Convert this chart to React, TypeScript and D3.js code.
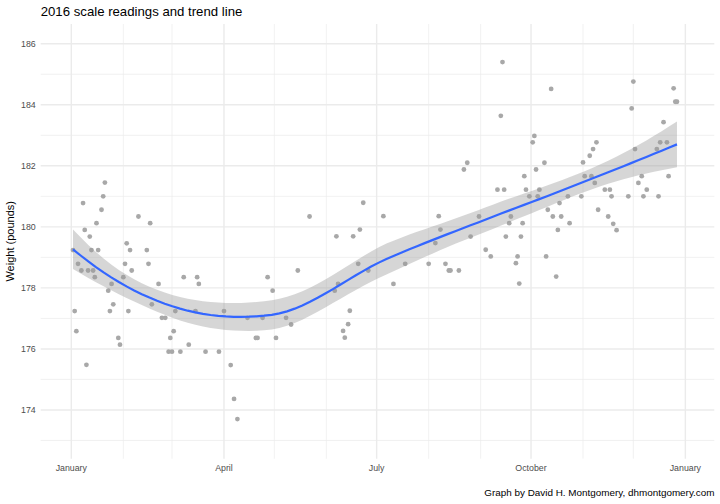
import React, { useEffect, useRef } from "react";
import * as d3 from "d3";

const title = "2016 scale readings and trend line";
const yTitle = "Weight (pounds)";
const caption = "Graph by David H. Montgomery, dhmontgomery.com";

// one reading per row of the month
const readingDates = [
  "2016-01-02", "2016-01-03", "2016-01-04", "2016-01-05", "2016-01-07", "2016-01-08", "2016-01-09", "2016-01-10",
  "2016-01-11", "2016-01-12", "2016-01-13", "2016-01-14", "2016-01-15", "2016-01-16", "2016-01-17", "2016-01-19",
  "2016-01-20", "2016-01-21", "2016-01-23", "2016-01-24", "2016-01-25", "2016-01-26", "2016-01-29", "2016-01-30",
  "2016-02-01", "2016-02-02", "2016-02-03", "2016-02-04", "2016-02-05", "2016-02-06", "2016-02-10", "2016-02-15",
  "2016-02-16", "2016-02-17", "2016-02-18", "2016-02-22", "2016-02-24", "2016-02-26", "2016-02-28", "2016-02-29",
  "2016-03-01", "2016-03-02", "2016-03-03", "2016-03-06", "2016-03-08", "2016-03-11", "2016-03-15", "2016-03-16",
  "2016-03-17", "2016-03-21", "2016-03-29",
  "2016-04-01", "2016-04-05", "2016-04-07", "2016-04-09", "2016-04-15", "2016-04-20", "2016-04-21", "2016-04-24",
  "2016-04-27", "2016-04-30",
  "2016-05-02", "2016-05-08", "2016-05-11", "2016-05-15", "2016-05-22",
  "2016-06-06", "2016-06-07", "2016-06-08", "2016-06-11", "2016-06-12", "2016-06-14", "2016-06-15", "2016-06-17",
  "2016-06-20", "2016-06-21", "2016-06-23", "2016-06-26",
  "2016-07-05", "2016-07-11", "2016-07-18",
  "2016-08-01", "2016-08-05", "2016-08-07", "2016-08-08", "2016-08-11", "2016-08-13", "2016-08-14", "2016-08-19",
  "2016-08-22", "2016-08-24", "2016-08-26", "2016-08-31",
  "2016-09-04", "2016-09-07", "2016-09-11", "2016-09-13", "2016-09-14", "2016-09-15", "2016-09-16", "2016-09-18",
  "2016-09-19", "2016-09-22", "2016-09-23", "2016-09-24", "2016-09-25", "2016-09-26", "2016-09-27", "2016-09-28",
  "2016-09-30",
  "2016-10-02", "2016-10-03", "2016-10-04", "2016-10-05", "2016-10-06", "2016-10-09", "2016-10-10", "2016-10-11",
  "2016-10-13", "2016-10-14", "2016-10-16", "2016-10-17", "2016-10-18", "2016-10-19", "2016-10-23", "2016-10-24",
  "2016-10-31",
  "2016-11-01", "2016-11-02", "2016-11-05", "2016-11-06", "2016-11-07", "2016-11-08", "2016-11-09", "2016-11-10",
  "2016-11-14", "2016-11-16", "2016-11-17", "2016-11-18", "2016-11-19", "2016-11-21", "2016-11-28", "2016-11-30",
  "2016-12-01", "2016-12-02", "2016-12-04", "2016-12-06", "2016-12-07", "2016-12-09", "2016-12-15", "2016-12-16",
  "2016-12-17", "2016-12-19", "2016-12-21", "2016-12-22", "2016-12-25", "2016-12-26", "2016-12-27",
];

const weights = [
  179.24, 177.24, 176.58, 178.79, 178.57, 180.78, 179.9, 175.48,
  178.57, 179.68, 179.24, 178.57, 178.35, 180.12, 179.24, 180.56,
  181.0, 181.45, 177.91, 177.24, 178.13, 177.46, 176.36, 176.14,
  178.35, 178.79, 179.46, 177.24, 179.24, 178.57, 180.34, 179.24,
  178.79, 180.12, 177.46, 178.13, 177.02, 177.02, 175.91, 176.36,
  175.91, 176.58, 177.24, 175.91, 178.35, 176.14, 177.24, 178.35,
  178.13, 175.91, 175.91,
  177.24, 175.47, 174.36, 173.7, 177.02, 176.36, 176.36, 177.02,
  178.35, 177.91,
  176.36, 177.02, 176.8, 178.57, 180.34,
  177.91, 179.69, 178.13, 176.59, 176.37, 176.81, 177.25, 179.69,
  178.79, 179.91, 180.79, 178.57,
  180.35, 178.13, 178.79,
  178.79, 179.47, 180.35, 179.91, 178.79, 178.57, 178.57, 178.57,
  181.88, 182.1, 179.68, 180.34,
  179.25, 179.03, 181.22, 183.64, 185.4, 181.22, 179.68, 180.12,
  180.34, 178.81, 179.03, 178.14, 179.68, 180.12, 181.66, 181.22,
  181.0,
  182.77, 182.98, 181.88, 181.0, 181.22, 182.1, 179.03, 180.56,
  184.52, 180.34, 178.37, 179.9, 180.78, 180.34, 181.0, 180.12,
  181.0,
  182.11, 181.66, 182.33, 181.66, 182.55, 181.44, 182.77, 180.56,
  181.22, 180.34, 181.22, 181.0, 180.1, 179.89, 181.0, 183.88,
  184.76, 182.55, 181.44, 181.66, 181.0, 181.22, 182.55, 181.0,
  182.77, 183.43, 182.77, 181.66, 184.54, 184.1, 184.1,
];

const xLimits = ["2016-01-01", "2016-12-31"];
const yLimits = [173.05, 186.0];
const xMajorTicks = ["2016-01-01", "2016-04-01", "2016-07-01", "2016-10-01", "2017-01-01"];
const yMajorTicks = [174, 176, 178, 180, 182, 184, 186];
const yMinorTicks = [173, 175, 177, 179, 181, 183, 185];

const width = 720;
const height = 504;
const panel = { left: 40.7, right: 714.3, top: 24, bottom: 458.7 };
const font = "'Liberation Sans', Arial, Helvetica, sans-serif";
const DAY = 864e5;

function invert3(m: number[][]) {
  const [a, b, c] = m[0];
  const [d, e, f] = m[1];
  const [g, h, i] = m[2];
  const A = e * i - f * h;
  const B = -(d * i - f * g);
  const C = d * h - e * g;
  const det = a * A + b * B + c * C;
  return [
    [A / det, -(b * i - c * h) / det, (b * f - c * e) / det],
    [B / det, (a * i - c * g) / det, -(a * f - c * d) / det],
    [C / det, -(a * h - b * g) / det, (a * e - b * d) / det],
  ];
}

// local quadratic fit at x0 (tricube weights); rows for value and slope
function localRows(xs: number[], x0: number, q: number) {
  const dist = xs.map((x) => Math.abs(x - x0));
  const h = [...dist].sort((a, b) => a - b)[q - 1] * 1.000001;
  const w = dist.map((d) => {
    const u = d / h;
    return u < 1 ? Math.pow(1 - u * u * u, 3) : 0;
  });
  const S = [
    [0, 0, 0],
    [0, 0, 0],
    [0, 0, 0],
  ];
  const basis = xs.map((x) => {
    const u = (x - x0) / h;
    return [1, u, u * u];
  });
  basis.forEach((b, i) => {
    for (let j = 0; j < 3; j++) for (let k = 0; k < 3; k++) S[j][k] += w[i] * b[j] * b[k];
  });
  const inv = invert3(S);
  const dot = (r: number[], b: number[]) => r[0] * b[0] + r[1] * b[1] + r[2] * b[2];
  return {
    val: basis.map((b, i) => w[i] * dot(inv[0], b)),
    slope: basis.map((b, i) => (w[i] * dot(inv[1], b)) / h),
  };
}

// kd cell boundaries like loess(surface = "interpolate")
function splitCells(vals: number[], fc: number, out: number[]) {
  if (vals.length <= fc) return;
  const m = Math.floor((vals.length + 1) / 2) - 1;
  const v = (vals[m] + vals[m + 1]) / 2;
  out.push(v);
  splitCells(vals.slice(0, m + 1), fc, out);
  splitCells(vals.slice(m + 1), fc, out);
}

function tQuantile975(df: number) {
  const z = 1.959964;
  return z + (z ** 3 + z) / (4 * df) + (5 * z ** 5 + 16 * z ** 3 + 3 * z) / (96 * df * df);
}

function smooth(xs: number[], ys: number[], span = 0.75) {
  const n = xs.length;
  const q = Math.floor(n * span);
  const sorted = [...xs].sort((a, b) => a - b);
  const [lo, hi] = [sorted[0], sorted[n - 1]];
  const mu = 0.005 * (hi - lo);
  const verts = [lo - mu, hi + mu];
  splitCells(sorted, Math.floor(n * span * 0.2), verts);
  verts.sort((a, b) => a - b);
  const vrows = verts.map((v) => localRows(xs, v, q));

  const rowAt = (x: number) => {
    let k = d3.bisectRight(verts, x) - 1;
    k = Math.max(0, Math.min(verts.length - 2, k));
    const a = verts[k];
    const D = verts[k + 1] - a;
    const t = (x - a) / D;
    const h00 = 2 * t ** 3 - 3 * t ** 2 + 1;
    const h10 = t ** 3 - 2 * t ** 2 + t;
    const h01 = -2 * t ** 3 + 3 * t ** 2;
    const h11 = t ** 3 - t ** 2;
    const A = vrows[k];
    const B = vrows[k + 1];
    return A.val.map(
      (_, j) => h00 * A.val[j] + h10 * D * A.slope[j] + h01 * B.val[j] + h11 * D * B.slope[j]
    );
  };

  const L = xs.map(rowAt);
  const fitted = L.map((row) => d3.sum(row, (v, j) => v * ys[j]));
  const rss = d3.sum(fitted, (f, i) => (ys[i] - f) ** 2);
  const IL = L.map((row, i) => row.map((v, j) => (i === j ? 1 : 0) - v));
  const M = xs.map((_, i) => xs.map((_, j) => d3.sum(IL, (r) => r[i] * r[j])));
  const one = d3.sum(M, (r, i) => r[i]);
  const two = d3.sum(M, (r) => d3.sum(r, (v) => v * v));
  const sigma = Math.sqrt(rss / one);
  const t = tQuantile975((one * one) / two);

  return d3.range(80).map((k) => {
    const x = lo + ((hi - lo) * k) / 79;
    const row = rowAt(x);
    const y = d3.sum(row, (v, j) => v * ys[j]);
    const se = sigma * Math.sqrt(d3.sum(row, (v) => v * v));
    return { x, y, ymin: y - t * se, ymax: y + t * se };
  });
}

const App = () => {
  const ref = useRef<SVGSVGElement>(null);

  useEffect(() => {
    const svg = d3.select(ref.current);
    svg.selectAll("*").remove();

    const parse = d3.utcParse("%Y-%m-%d");
    const dates = readingDates.map((d) => parse(d)!);
    const origin = parse(xLimits[0])!;
    const end = parse(xLimits[1])!;
    const spanMs = +end - +origin;

    const x = d3
      .scaleUtc()
      .domain([new Date(+origin - spanMs * 0.05), new Date(+end + spanMs * 0.05)])
      .range([panel.left, panel.right]);
    const ySpan = yLimits[1] - yLimits[0];
    const y = d3
      .scaleLinear()
      .domain([yLimits[0] - ySpan * 0.05, yLimits[1] + ySpan * 0.05])
      .range([panel.bottom, panel.top]);

    const majors = xMajorTicks.map((d) => +parse(d)!);
    const xMinor = d3
      .utcMonth.range(x.domain()[0], x.domain()[1])
      .filter((d) => !majors.includes(+d));

    const grid = svg.append("g").attr("stroke", "#EBEBEB").attr("fill", "none");
    grid
      .selectAll("line.ymin")
      .data(yMinorTicks)
      .join("line")
      .attr("x1", panel.left)
      .attr("x2", panel.right)
      .attr("y1", (d) => y(d))
      .attr("y2", (d) => y(d))
      .attr("stroke-width", 0.71);
    grid
      .selectAll("line.xmin")
      .data(xMinor)
      .join("line")
      .attr("x1", (d) => x(d))
      .attr("x2", (d) => x(d))
      .attr("y1", panel.top)
      .attr("y2", panel.bottom)
      .attr("stroke-width", 0.71);
    grid
      .selectAll("line.ymaj")
      .data(yMajorTicks)
      .join("line")
      .attr("x1", panel.left)
      .attr("x2", panel.right)
      .attr("y1", (d) => y(d))
      .attr("y2", (d) => y(d))
      .attr("stroke-width", 1.42);
    grid
      .selectAll("line.xmaj")
      .data(majors)
      .join("line")
      .attr("x1", (d) => x(new Date(d)))
      .attr("x2", (d) => x(new Date(d)))
      .attr("y1", panel.top)
      .attr("y2", panel.bottom)
      .attr("stroke-width", 1.42);

    svg
      .append("g")
      .attr("fill", "#A8A8A8")
      .selectAll("circle")
      .data(dates)
      .join("circle")
      .attr("cx", (d) => x(d))
      .attr("cy", (_, i) => y(weights[i]))
      .attr("r", 2.4);

    const days = dates.map((d) => (+d - +origin) / DAY);
    const fit = smooth(days, weights);
    const px = (d: { x: number }) => x(new Date(+origin + d.x * DAY));

    svg
      .append("path")
      .attr("fill", "#999999")
      .attr("fill-opacity", 0.4)
      .attr(
        "d",
        d3
          .area<any>()
          .x(px)
          .y0((d) => y(d.ymin))
          .y1((d) => y(d.ymax))(fit)
      );
    svg
      .append("path")
      .attr("fill", "none")
      .attr("stroke", "#3366FF")
      .attr("stroke-width", 2.2)
      .attr(
        "d",
        d3
          .line<any>()
          .x(px)
          .y((d) => y(d.y))(fit)
      );

    const text = svg.append("g").attr("font-family", font);
    text
      .selectAll("text.yl")
      .data(yMajorTicks)
      .join("text")
      .attr("x", 35.7)
      .attr("y", (d) => y(d) + 3.1)
      .attr("text-anchor", "end")
      .attr("font-size", 8.8)
      .attr("fill", "#4D4D4D")
      .text((d) => d);
    text
      .selectAll("text.xl")
      .data(majors)
      .join("text")
      .attr("x", (d) => x(new Date(d)))
      .attr("y", 471)
      .attr("text-anchor", "middle")
      .attr("font-size", 8.8)
      .attr("fill", "#4D4D4D")
      .text((d) => d3.utcFormat("%B")(new Date(d)));

    text
      .append("text")
      .attr("x", panel.left)
      .attr("y", 15.5)
      .attr("font-size", 13.2)
      .attr("fill", "#000")
      .text(title);
    text
      .append("text")
      .attr("transform", `translate(14,${(panel.top + panel.bottom) / 2}) rotate(-90)`)
      .attr("text-anchor", "middle")
      .attr("font-size", 11)
      .attr("fill", "#000")
      .text(yTitle);
    text
      .append("text")
      .attr("x", 714.5)
      .attr("y", 495.5)
      .attr("text-anchor", "end")
      .attr("font-size", 9.9)
      .attr("fill", "#000")
      .text(caption);
  }, []);

  return (
    <svg
      ref={ref}
      width={width}
      height={height}
      style={{ position: "absolute", left: 0, top: 0, background: "#fff" }}
    />
  );
};

export default App;
